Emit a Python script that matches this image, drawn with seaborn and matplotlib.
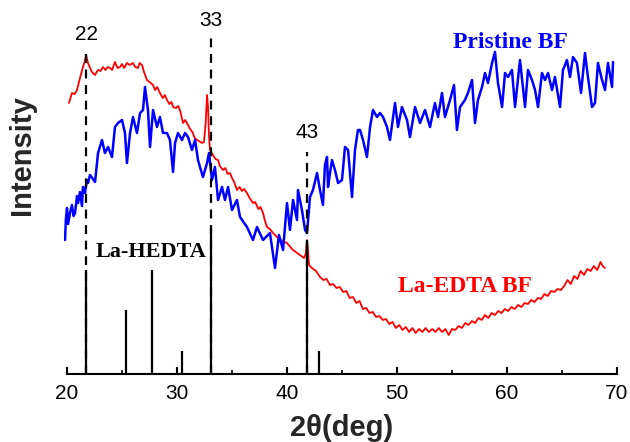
import matplotlib
matplotlib.use("Agg")
import matplotlib.pyplot as plt
import seaborn as sns
import numpy as np
from matplotlib.ticker import MultipleLocator

# ---------------- data ----------------
pristine_2theta = [19.82, 19.9, 20.0, 20.1, 20.27, 20.45, 20.6, 20.73, 20.91, 21.0, 21.18, 21.36,
                   21.45, 21.64, 21.8, 21.91, 22.09, 22.3, 22.55, 22.82, 23.18, 23.45, 23.73, 24.09,
                   24.36, 24.64, 25.0, 25.27, 25.45, 25.73, 26.0, 26.36, 26.64, 26.91, 27.09, 27.36,
                   27.55, 27.82, 28.18, 28.45, 28.73, 29.09, 29.36, 29.64, 29.82, 30.09, 30.45, 30.73,
                   31.0, 31.36, 31.64, 31.91, 32.09, 32.36, 32.73, 32.91, 33.18, 33.45, 33.73, 34.09,
                   34.36, 34.64, 35.0, 35.45, 35.73, 36.36, 36.91, 37.27, 37.82, 38.45, 38.91, 39.27,
                   39.64, 40.0, 40.27, 40.55, 40.91, 41.0, 41.36, 41.64, 41.82, 42.09, 42.36, 42.73,
                   43.0, 43.27, 43.45, 43.64, 43.73, 43.91, 44.09, 44.36, 44.64, 45.0, 45.27, 45.55,
                   45.91, 46.18, 46.45, 46.64, 46.91, 47.27, 47.55, 47.82, 48.18, 48.45, 48.73, 49.09,
                   49.36, 49.82, 50.09, 50.45, 50.91, 51.18, 51.64, 52.09, 52.55, 53.0, 53.45, 53.73,
                   54.09, 54.36, 54.82, 55.18, 55.45, 55.73, 56.18, 56.45, 56.82, 57.09, 57.36, 57.73,
                   58.0, 58.27, 58.64, 58.91, 59.18, 59.55, 59.82, 60.09, 60.45, 60.73, 61.18, 61.64,
                   61.91, 62.27, 62.55, 62.82, 63.18, 63.45, 63.73, 64.09, 64.36, 64.82, 65.09, 65.45,
                   65.73, 66.0, 66.36, 66.73, 67.09, 67.36, 67.73, 68.0, 68.27, 68.64, 68.91, 69.18,
                   69.55, 69.64]
pristine_int = [134, 155, 166, 150, 161, 169, 158, 161, 178, 171, 182, 168,
                187, 181, 194, 191, 199, 196, 192, 221, 234, 221, 227, 217,
                247, 251, 254, 241, 211, 241, 257, 241, 261, 264, 287, 264,
                227, 264, 247, 257, 241, 241, 234, 202, 231, 241, 234, 241,
                237, 224, 234, 214, 207, 197, 211, 221, 194, 207, 174, 187,
                174, 187, 164, 174, 157, 147, 134, 147, 134, 141, 106, 139,
                124, 171, 144, 174, 154, 184, 164, 144, 141, 177, 184, 201,
                184, 169, 209, 217, 187, 201, 214, 204, 191, 194, 227, 224,
                177, 224, 244, 244, 234, 217, 247, 264, 257, 261, 257, 247,
                234, 271, 247, 267, 254, 237, 267, 251, 264, 247, 271, 257,
                281, 257, 274, 289, 244, 267, 274, 281, 294, 251, 274, 287,
                301, 291, 311, 322, 291, 267, 301, 297, 304, 267, 314, 267,
                304, 294, 284, 267, 301, 294, 301, 284, 297, 267, 304, 314,
                297, 317, 311, 281, 321, 297, 267, 271, 311, 294, 284, 311,
                287, 312]

edta_2theta = [20.18, 20.45, 20.7, 20.91, 21.18, 21.45, 21.6, 21.73, 21.91, 22.1, 22.27, 22.55,
               22.7, 22.82, 23.05, 23.27, 23.5, 23.7, 23.91, 24.1, 24.36, 24.6, 24.82, 25.0,
               25.2, 25.45, 25.7, 26.0, 26.2, 26.45, 26.6, 26.82, 27.0, 27.27, 27.5, 27.82,
               28.0, 28.2, 28.45, 28.7, 28.9, 29.09, 29.3, 29.5, 29.64, 29.9, 30.1, 30.27,
               30.55, 30.75, 31.0, 31.2, 31.45, 31.6, 31.82, 32.0, 32.27, 32.45, 32.6, 32.73,
               32.82, 32.9, 33.0, 33.1, 33.27, 33.5, 33.73, 33.9, 34.18, 34.4, 34.6, 34.82,
               35.0, 35.2, 35.45, 35.7, 35.9, 36.1, 36.36, 36.6, 36.91, 37.1, 37.4, 37.6,
               37.82, 38.0, 38.18, 38.45, 38.73, 39.0, 39.36, 39.6, 40.0, 40.3, 40.55, 40.8,
               41.18, 41.55, 41.7, 41.82, 41.9, 42.0, 42.27, 42.64, 43.0, 43.3, 43.6, 43.9,
               44.2, 44.5, 44.8, 45.1, 45.4, 45.7, 46.0, 46.3, 46.6, 46.9, 47.2, 47.5,
               47.8, 48.1, 48.4, 48.7, 49.0, 49.3, 49.6, 49.9, 50.2, 50.5, 50.8, 51.1,
               51.4, 51.7, 52.0, 52.3, 52.6, 52.9, 53.2, 53.5, 53.8, 54.1, 54.4, 54.7,
               55.0, 55.3, 55.6, 55.9, 56.2, 56.5, 56.8, 57.1, 57.4, 57.7, 58.0, 58.3,
               58.6, 58.9, 59.2, 59.5, 59.8, 60.1, 60.4, 60.7, 61.0, 61.3, 61.6, 61.9,
               62.2, 62.5, 62.8, 63.1, 63.4, 63.7, 64.0, 64.3, 64.6, 64.9, 65.2, 65.5,
               65.8, 66.1, 66.4, 66.7, 67.0, 67.3, 67.6, 67.9, 68.2, 68.5, 68.7, 68.9]
edta_int = [271, 281, 280, 284, 296, 307, 312, 319, 311, 306, 302, 299,
            302, 304, 303, 307, 304, 307, 306, 304, 312, 306, 307, 310,
            306, 311, 309, 311, 307, 306, 311, 309, 302, 294, 292, 289,
            284, 287, 281, 276, 279, 274, 270, 272, 267, 266, 268, 264,
            251, 254, 249, 245, 241, 236, 234, 233, 231, 232, 250, 279,
            267, 240, 224, 222, 219, 215, 214, 208, 204, 206, 200, 201,
            196, 192, 184, 187, 183, 185, 181, 176, 171, 172, 165, 167,
            161, 153, 147, 145, 141, 138, 134, 133, 131, 127, 124, 122,
            119, 116, 120, 134, 125, 109, 106, 103, 97, 94, 95, 89,
            90, 86, 87, 82, 83, 76, 77, 71, 73, 65, 66, 61,
            62, 57, 58, 54, 55, 50, 52, 46, 49, 44, 47, 42,
            46, 41, 45, 42, 46, 42, 45, 42, 46, 42, 45, 39,
            45, 44, 48, 46, 51, 49, 53, 51, 56, 54, 59, 56,
            61, 59, 63, 61, 65, 63, 67, 65, 69, 67, 71, 70,
            74, 72, 76, 75, 80, 78, 83, 82, 85, 84, 88, 94,
            90, 98, 95, 103, 99, 105, 103, 108, 104, 112, 108, 106]

# La-HEDTA reference pattern (stick positions / heights)
hedta_pos = [21.7, 25.4, 27.75, 30.45, 33.05, 41.82, 42.9]
hedta_height = [104, 64, 104, 23, 147, 134, 23]

# guide lines
guide_pos = [21.73, 33.05, 41.82]
guide_top = [326, 337, 222]
guide_labels = ["22", "33", "43"]
guide_label_y = [339, 354, 241]

x_ticks = [20, 30, 40, 50, 60, 70]

# ---------------- figure ----------------
sns.set_theme(style="white")
plt.rcParams["font.family"] = ["Liberation Sans", "DejaVu Sans"]

fig = plt.figure(figsize=(6.3, 4.42), dpi=100)
ax = fig.add_axes([63.7 / 630, 68 / 442, 555.5 / 630, 364 / 442])

sns.lineplot(x=edta_2theta, y=edta_int, ax=ax, color="#ff0000", lw=1.3,
             sort=False, estimator=None, solid_joinstyle="round")
sns.lineplot(x=pristine_2theta, y=pristine_int, ax=ax, color="#0000ff", lw=1.8,
             sort=False, estimator=None, solid_joinstyle="round")

ax.vlines(hedta_pos, 0, hedta_height, colors="black", lw=1.6, zorder=3)
ax.vlines(guide_pos, 0, guide_top, colors="black", lw=1.6,
          linestyles=[(0, (4, 3))], zorder=4)
for xp, lab, ly in zip(guide_pos, guide_labels, guide_label_y):
    ax.text(xp, ly, lab, ha="center", va="center", fontsize=15, color="black")

serif = ["Liberation Serif", "DejaVu Serif"]
ax.text(60.27, 332, "Pristine BF", color="#0000ff", fontsize=17, fontweight="bold",
        family=serif, ha="center", va="center")
ax.text(56.18, 87, "La-EDTA BF", color="#ff0000", fontsize=17, fontweight="bold",
        family=serif, ha="center", va="center")
ax.text(27.64, 122, "La-HEDTA", color="black", fontsize=16, fontweight="bold",
        family=serif, ha="center", va="center")

ax.set_xlim(19.7, 70.2)
ax.set_ylim(0, 364)
for s in ["left", "right", "top"]:
    ax.spines[s].set_visible(False)
ax.spines["bottom"].set_bounds(20, 70)
ax.spines["bottom"].set_linewidth(1.5)
ax.spines["bottom"].set_color("black")

ax.set_xticks(x_ticks)
ax.xaxis.set_minor_locator(MultipleLocator(5))
ax.tick_params(axis="x", which="major", direction="in", length=5, width=1.5,
               labelsize=15, pad=7, bottom=True, colors="black")
ax.tick_params(axis="x", which="minor", direction="in", length=3, width=1.2,
               bottom=True, colors="black")
ax.set_yticks([])
ax.set_xlabel("")
ax.set_ylabel("")

fig.text(342 / 630, 1 - 428 / 442, "2θ(deg)", ha="center", va="center",
         fontsize=21, fontweight="bold")
fig.text(22 / 630, 1 - 155 / 442, "Intensity", ha="center", va="center",
         fontsize=21, fontweight="bold", rotation=90)

fig.savefig("out.png", dpi=100, facecolor="white")
